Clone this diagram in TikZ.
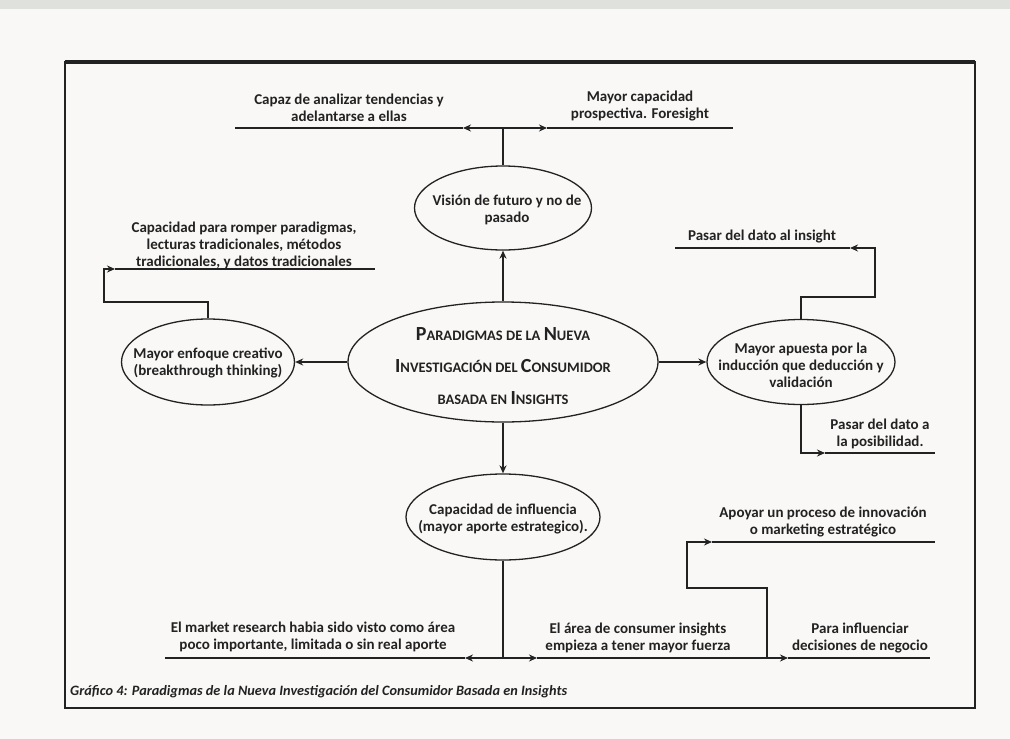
\documentclass[tikz,border=0pt]{standalone}
\usepackage{fontspec}
\usetikzlibrary{shapes.geometric,arrows.meta,calc}
\newfontfamily\carl{Carlito}
\definecolor{ink}{HTML}{222222}
\definecolor{paper}{HTML}{FAF8F6}
\definecolor{band}{HTML}{DEE1DC}
\newcommand\lblfont{\carl\bfseries\fontsize{15}{17}\selectfont}
\newcommand\bigL[1]{{\fontsize{20}{32}\selectfont #1}}
\tikzset{
  ell/.style={ellipse, draw=ink, line width=1.3pt, inner sep=0pt},
  lbl/.style={align=center, text=ink, font=\lblfont, inner sep=0pt},
  uline/.style={draw=ink, line width=2.8pt},
  conn/.style={draw=ink, line width=1.7pt},
  arr/.style={conn, -{Stealth[length=8pt,width=7pt]}},
}
\begin{document}
\begin{tikzpicture}[x=1pt,y=-1pt]
\useasboundingbox (0,0) rectangle (1010,739);
\fill[paper] (0,0) rectangle (1010,739);
\fill[band] (0,0) rectangle (1010,9);
% frame
\draw[ink, line width=2pt] (65,62) rectangle (975,708);
\draw[ink, line width=3.2pt] (65,62) -- (975,62);

% ellipses
\node[ell, minimum width=310, minimum height=120] (cen) at (503,362) {};
\node[lbl, font=\carl\bfseries\fontsize{14.5}{32}\selectfont] (cent) at (503,366)
  {\bigL{P}ARADIGMAS DE LA \bigL{N}UEVA\\ \bigL{I}NVESTIGACIÓN DEL \bigL{C}ONSUMIDOR\\ BASADA EN \bigL{I}NSIGHTS};
\node[ell, minimum width=177, minimum height=84] (vis) at (503,208) {};
\node[lbl] (vist) at (507,210) {Visión de futuro y no de\\pasado};
\node[ell, minimum width=173, minimum height=86] (enf) at (208,362) {};
\node[lbl] (enft) at (208,363) {Mayor enfoque creativo\\(breakthrough thinking)};
\node[ell, minimum width=188, minimum height=85] (apu) at (801,362) {};
\node[lbl] (aput) at (801,365) {Mayor apuesta por la\\inducción que deducción y\\validación};
\node[ell, minimum width=194, minimum height=86] (cap) at (503,517) {};
\node[lbl] (capt) at (503,519) {Capacidad de influencia\\(mayor aporte estrategico).};

% top labels
\node[lbl] (tl) at (349,108) {Capaz de analizar tendencias y\\adelantarse a ellas};
\node[lbl] (tr) at (640,106) {Mayor capacidad\\prospectiva. Foresight};
\coordinate (jt) at (503,128);
\coordinate (tla) at (235,128); \coordinate (tlb) at (463,128);
\coordinate (tra) at (547,128); \coordinate (trb) at (733,128);
\draw[uline] (tla) -- (tlb);
\draw[uline] (tra) -- (trb);
\draw[arr] (jt) -- (tlb);
\draw[arr] (jt) -- (tra);
\draw[conn] (vis.north) -- (jt);
\draw[arr] (cen.north) -- (vis.south);

% left
\node[lbl] (ll) at (244,245) {Capacidad para romper paradigmas,\\lecturas tradicionales, métodos\\tradicionales, y datos tradicionales};
\coordinate (lla) at (115,269); \coordinate (llb) at (375,269);
\draw[uline] (lla) -- (llb);
\coordinate (lk1) at (208,302); \coordinate (lk2) at (104,302); \coordinate (lk3) at (104,269);
\draw[arr] (enf.north) -- (lk1) -- (lk2) -- (lk3) -- (lla);
\draw[arr] (cen.west) -- (enf.east);

% right
\draw[arr] (cen.east) -- (apu.west);
\node[lbl] (ri) at (762,237) {Pasar del dato al insight};
\coordinate (ria) at (675,248); \coordinate (rib) at (850,248);
\draw[uline] (ria) -- (rib);
\coordinate (rk1) at (801,297); \coordinate (rk2) at (875,297); \coordinate (rk3) at (875,248);
\draw[arr] (apu.north) -- (rk1) -- (rk2) -- (rk3) -- (rib);
\node[lbl] (rp) at (880,434) {Pasar del dato a\\la posibilidad.};
\coordinate (rpa) at (825,453); \coordinate (rpb) at (935,453);
\draw[uline] (rpa) -- (rpb);
\coordinate (rk4) at (801,453);
\draw[arr] (apu.south) -- (rk4) -- (rpa);

% bottom
\draw[arr] (cen.south) -- (cap.north);
\coordinate (jb) at (503,658);
\draw[conn] (cap.south) -- (jb);
\node[lbl] (bl) at (313,637) {El market research habia sido visto como área\\poco importante, limitada o sin real aporte};
\node[lbl] (bm) at (638,638) {El área de consumer insights\\empieza a tener mayor fuerza};
\node[lbl] (br) at (860,638) {Para influenciar\\decisiones de negocio};
\node[lbl] (bt) at (823,522) {Apoyar un proceso de innovación\\o marketing estratégico};
\coordinate (bla) at (165,658); \coordinate (blb) at (465,658);
\coordinate (bma) at (537,658); \coordinate (bmb) at (742,658);
\coordinate (bra) at (788,658); \coordinate (brb) at (930,658);
\coordinate (bta) at (712,542); \coordinate (btb) at (935,542);
\draw[uline] (bla) -- (blb);
\draw[uline] (bma) -- (bmb);
\draw[uline] (bra) -- (brb);
\draw[uline] (bta) -- (btb);
\draw[arr] (jb) -- (blb);
\draw[arr] (jb) -- (bma);
\draw[arr] (bmb) -- (bra);
\coordinate (bk0) at (767,658); \coordinate (bk1) at (767,588);
\coordinate (bk2) at (687,588); \coordinate (bk3) at (687,542);
\draw[arr] (bk0) -- (bk1) -- (bk2) -- (bk3) -- (bta);

% caption
\node[anchor=west, text=ink, inner sep=0pt, font=\carl\bfseries\itshape\fontsize{14.3}{16}\selectfont] (cap4) at (70,692)
  {Gráfico 4: Paradigmas de la Nueva Investigación del Consumidor Basada en Insights};
\end{tikzpicture}
\end{document}
